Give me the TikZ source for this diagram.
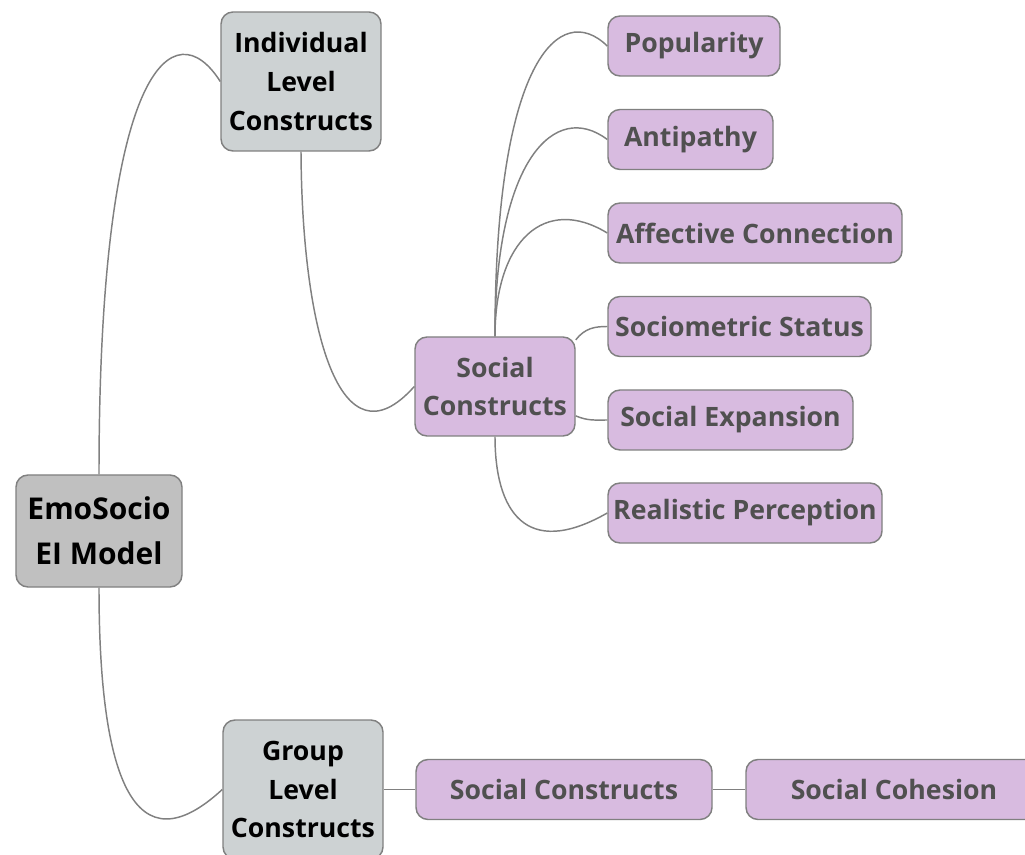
\documentclass[tikz,border=0pt]{standalone}
\usepackage{fontspec}
\setmainfont{Open Sans}
\usetikzlibrary{backgrounds}
\definecolor{purp}{HTML}{D8BBE0}
\definecolor{grayb}{HTML}{CDD2D3}
\definecolor{rootc}{HTML}{C0C0C0}
\definecolor{edgec}{HTML}{808080}
\definecolor{ptext}{HTML}{505050}
\tikzset{
  base/.style={draw=edgec, line width=1.1pt, rounded corners=9pt, inner sep=0pt, align=center,
    font=\bfseries\fontsize{20}{28.9}\selectfont},
  pnode/.style={base, fill=purp, text=ptext, minimum height=45pt},
  gnode/.style={base, fill=grayb, text=black, minimum width=120pt, minimum height=104.25pt},
  rnode/.style={base, fill=rootc, text=black, minimum width=124.5pt, minimum height=84pt,
    font=\bfseries\fontsize{22.5}{33.75}\selectfont},
  link/.style={draw=edgec, line width=1.1pt},
}
\begin{document}
\begin{tikzpicture}[x=0.75pt, y=-0.75pt]
\useasboundingbox (0,0) rectangle (1025,855);
\node[rnode] (root) at (99,531) {EmoSocio\\EI Model};
\node[gnode] (ind) at (301,81.5) {Individual\\Level\\Constructs};
\node[gnode] (grp) at (303,789.5) {Group\\Level\\Constructs};
\node[pnode, minimum width=120pt, minimum height=74.25pt] (sc) at (495,386.5) {Social\\Constructs};
\node[pnode, minimum width=129pt] (pop) at (694,46) {Popularity};
\node[pnode, minimum width=123.75pt] (anti) at (690.5,139.5) {Antipathy};
\node[pnode, minimum width=220.5pt] (aff) at (755,233) {Affective Connection};
\node[pnode, minimum width=197.25pt] (soc) at (739.5,326.5) {Sociometric Status};
\node[pnode, minimum width=183.75pt] (exp) at (730.5,420) {Social Expansion};
\node[pnode, minimum width=205.5pt] (real) at (745,513) {Realistic Perception};
\node[pnode, minimum width=222pt] (sc2) at (564,789.5) {Social Constructs};
\node[pnode, minimum width=222pt] (coh) at (894,789.5) {Social Cohesion};
\begin{scope}[on background layer]
\draw[link] (root.north) .. controls (99,60) and (175,10) .. (ind.west);
\draw[link] (ind.south) .. controls (302,330) and (340,470) .. (sc.west);
\draw[link] (root.south) .. controls (99,780) and (135,870) .. (grp.west);
\draw[link] (grp.east) -- (sc2.west);
\draw[link] (sc2.east) -- (coh.west);
\draw[link] (sc.north) .. controls (495,60) and (560,0) .. (pop.west);
\draw[link] (sc.north) .. controls (495,160) and (555,100) .. (anti.west);
\draw[link] (sc.north) .. controls (495,240) and (545,195) .. (aff.west);
\draw[link] (sc.30) .. controls (585,328) and (595,326.5) .. (soc.west);
\draw[link] (sc.-20) .. controls (588,421) and (595,420) .. (exp.west);
\draw[link] (sc.south) .. controls (495,510) and (525,560) .. (real.west);
\end{scope}
\end{tikzpicture}
\end{document}
